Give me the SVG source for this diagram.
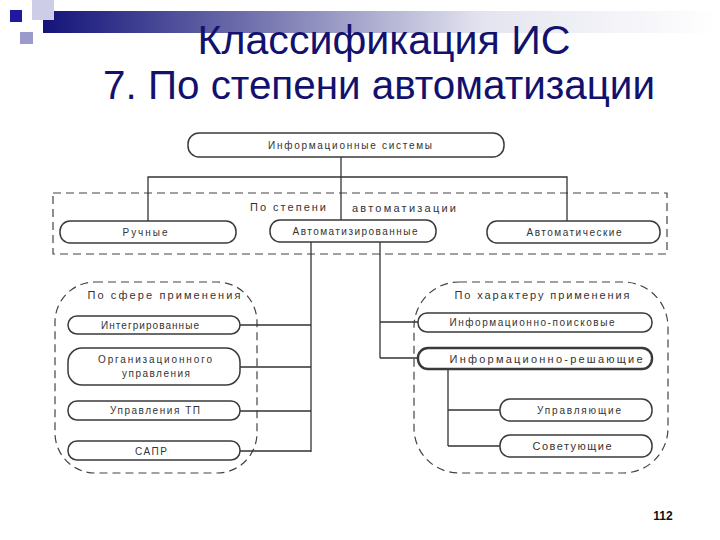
<svg xmlns="http://www.w3.org/2000/svg" width="720" height="540" viewBox="0 0 720 540">
<defs>
<linearGradient id="bar" x1="0" y1="0" x2="1" y2="0">
<stop offset="0" stop-color="#14147a"/>
<stop offset="0.3" stop-color="#6e6eac"/>
<stop offset="0.65" stop-color="#e4e4f0"/>
<stop offset="1" stop-color="#ffffff"/>
</linearGradient>
<style>
.title{font-family:"Liberation Sans",Arial,sans-serif;font-size:41px;fill:#12126e;text-anchor:middle}
.pill{fill:#ffffff;stroke:#3a3a3a;stroke-width:1.5}
.bold{stroke-width:2.4}
.t{font-family:"Liberation Sans",Arial,sans-serif;font-size:10px;fill:#333333;text-anchor:middle}
.lbl{font-family:"Liberation Sans",Arial,sans-serif;font-size:11px;fill:#333333;text-anchor:middle}
.dash{fill:none;stroke:#444444;stroke-width:1.2;stroke-dasharray:8 5}
.ln{fill:none;stroke:#333333;stroke-width:1.3}
.pg{font-family:"Liberation Sans",Arial,sans-serif;font-size:12px;font-weight:bold;fill:#111111;text-anchor:middle}
</style>
</defs>
<rect width="720" height="540" fill="#ffffff"/>
<g id="decor">
<rect x="43" y="11" width="677" height="22" fill="url(#bar)"/>
<rect x="32" y="0" width="22" height="20" fill="#cdcde8"/>
<rect x="10" y="10" width="12" height="12" fill="#1a1a9a"/>
<rect x="20" y="32" width="13" height="12" fill="#9a9acc"/>
</g>
<g id="title">
<text class="title" x="384" y="54" textLength="373" lengthAdjust="spacingAndGlyphs">Классификация ИС</text>
<text class="title" x="379" y="99" textLength="552" lengthAdjust="spacingAndGlyphs">7. По степени автоматизации</text>
</g>
<g id="groups">
<rect class="dash" x="53" y="193" width="614" height="61"/>
<text class="lbl" x="288" y="211" textLength="76" lengthAdjust="spacing">По степени</text>
<text class="lbl" x="404" y="212" textLength="104" lengthAdjust="spacing">автоматизации</text>
<rect class="dash" x="55" y="282" width="202" height="191" rx="40" ry="40"/>
<text class="lbl" x="164" y="299" textLength="153" lengthAdjust="spacing">По сфере применения</text>
<rect class="dash" x="414" y="282" width="254" height="191" rx="45" ry="45"/>
<text class="lbl" x="542" y="299" textLength="175" lengthAdjust="spacing">По характеру применения</text>
</g>
<g id="connectors">
<path class="ln" d="M341 157 V220"/>
<path class="ln" d="M148 221 V177 H567 V221"/>
<path class="ln" d="M311 242 V452"/>
<path class="ln" d="M240 325 H311 M240 367 H311 M240 411 H311 M240 451 H311"/>
<path class="ln" d="M380 242 V358"/>
<path class="ln" d="M380 322 H418 M380 358 H418"/>
<path class="ln" d="M448 369 V446 M448 410 H500 M448 446 H500"/>
</g>
<g id="n-is">
<rect class="pill" x="188" y="133" width="316" height="24" rx="11"/>
<text class="t" x="350" y="149" textLength="164" lengthAdjust="spacing">Информационные системы</text>
</g>
<g id="n-manual">
<rect class="pill" x="60" y="221" width="176" height="22" rx="10"/>
<text class="t" x="145" y="236" textLength="45" lengthAdjust="spacing">Ручные</text>
</g>
<g id="n-automated">
<rect class="pill" x="270" y="220" width="166" height="22" rx="10"/>
<text class="t" x="355" y="235" textLength="125" lengthAdjust="spacing">Автоматизированные</text>
</g>
<g id="n-automatic">
<rect class="pill" x="487" y="221" width="173" height="22" rx="10"/>
<text class="t" x="574" y="236" textLength="95" lengthAdjust="spacing">Автоматические</text>
</g>
<g id="n-integr">
<rect class="pill" x="68" y="316" width="172" height="18" rx="9"/>
<text class="t" x="150" y="329" textLength="98" lengthAdjust="spacing">Интегрированные</text>
</g>
<g id="n-org">
<rect class="pill" x="68" y="348" width="172" height="37" rx="14"/>
<text class="t" x="155" y="363" textLength="114" lengthAdjust="spacing">Организационного</text>
<text class="t" x="156" y="377" textLength="68" lengthAdjust="spacing">управления</text>
</g>
<g id="n-tp">
<rect class="pill" x="68" y="401" width="172" height="19" rx="9"/>
<text class="t" x="155" y="414" textLength="90" lengthAdjust="spacing">Управления ТП</text>
</g>
<g id="n-sapr">
<rect class="pill" x="68" y="441" width="172" height="19" rx="9"/>
<text class="t" x="151" y="455" textLength="32" lengthAdjust="spacing">САПР</text>
</g>
<g id="n-search">
<rect class="pill" x="418" y="313" width="234" height="19" rx="9"/>
<text class="t" x="532" y="326" textLength="165" lengthAdjust="spacing">Информационно-поисковые</text>
</g>
<g id="n-decide">
<rect class="pill bold" x="418" y="348" width="234" height="21" rx="10"/>
<text class="lbl" x="546" y="363" textLength="193" lengthAdjust="spacing">Информационно-решающие</text>
</g>
<g id="n-control">
<rect class="pill" x="500" y="399" width="152" height="22" rx="10"/>
<text class="t" x="579" y="414" textLength="84" lengthAdjust="spacing">Управляющие</text>
</g>
<g id="n-advise">
<rect class="pill" x="500" y="435" width="152" height="22" rx="10"/>
<text class="lbl" x="572" y="450" textLength="79" lengthAdjust="spacing">Советующие</text>
</g>
<text class="pg" x="663" y="520">112</text>
</svg>
